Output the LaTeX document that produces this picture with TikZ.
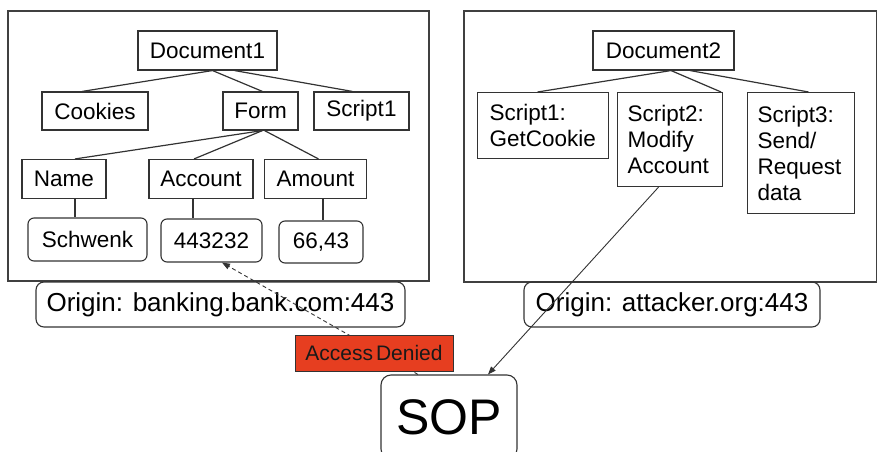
\documentclass[tikz,border=0pt]{standalone}
\usepackage{fontspec}
\setmainfont{Liberation Sans}
\usetikzlibrary{arrows.meta, positioning}
\definecolor{denyred}{RGB}{230,62,32}

\begin{document}
\begin{tikzpicture}[x=1pt, y=-1pt,
  box/.style={draw=black!80, line width=1.1pt, rectangle, inner sep=0pt,
    font=\fontsize{22.5}{26}\selectfont},
  val/.style={box, rounded corners=6pt},
  script/.style={box, anchor=north west, align=left, inner ysep=11pt},
  origin/.style={box, rounded corners=8pt, font=\fontsize{26}{30}\selectfont},
  link/.style={draw=black!80, line width=1.2pt},
  tip/.style={-{Triangle[length=8pt, width=6pt]}}]
\useasboundingbox (0,0) rectangle (878,452);

% the two documents
\draw[draw=black!75, line width=1.2pt] (8,11) rectangle (429,281);
\draw[draw=black!75, line width=1.2pt] (464,11) rectangle (876.5,282);

% tree of Document1
\node[box, minimum width=139pt, minimum height=39pt] (doc1) at (207.5,50.5) {Document1};
\node[box, minimum width=106pt, minimum height=38pt] (cookies) at (95,111) {Cookies};
\node[box, minimum width=75pt, minimum height=38pt] (form) at (260.5,111) {Form};
\node[box, minimum width=95pt, minimum height=38pt] (script1) at (361.5,111) {Script1};
\node[box, minimum width=84pt, minimum height=39pt] (name) at (64,179) {Name};
\node[box, minimum width=104pt, minimum height=39pt] (account) at (201,179) {Account};
\node[box, minimum width=102pt, minimum height=39pt] (amount) at (315.5,179) {Amount};
\node[val, minimum width=119pt, minimum height=43pt] (v1) at (87.5,239.5) {Schwenk};
\node[val, minimum width=101pt, minimum height=43pt] (v2) at (211.5,240.5) {443232};
\node[val, minimum width=84pt, minimum height=42pt] (v3) at (321,242) {66,43};

\draw[link] ([xshift=5pt]doc1.south) -- ([xshift=-13pt]cookies.north);
\draw[link] ([xshift=5pt]doc1.south) -- ([xshift=2pt]form.north);
\draw[link] ([xshift=27pt]doc1.south) -- ([xshift=-9pt]script1.north);
\draw[link] ([xshift=2pt]form.south) -- ([xshift=11pt]name.north);
\draw[link] ([xshift=2pt]form.south) -- ([xshift=-7pt]account.north);
\draw[link] ([xshift=4pt]form.south) -- ([xshift=3pt]amount.north);
\draw[link] ([xshift=11pt]name.south) -- ([xshift=-12.5pt]v1.north);
\draw[link] ([xshift=-8pt]account.south) -- ([xshift=-18.5pt]v2.north);
\draw[link] ([xshift=7.5pt]amount.south) -- ([xshift=2pt]v3.north);

% tree of Document2
\node[box, minimum width=141pt, minimum height=39pt] (doc2) at (663.5,50.5) {Document2};
\node[script, inner xsep=12pt, text width=107pt, minimum height=66pt] (s1) at (477,92) {Script1:\\GetCookie};
\node[script, inner xsep=10pt, text width=85pt, minimum height=94pt] (s2) at (617,92) {Script2:\\Modify\\Account};
\node[script, inner xsep=10pt, text width=87pt, minimum height=121pt] (s3) at (747,92) {Script3:\\Send/\\Request\\data};

\draw[link] ([xshift=7.5pt]doc2.south) -- ([xshift=-5.5pt]s1.north);
\draw[link] ([xshift=7.5pt]doc2.south) -- ([xshift=-2pt]s2.north east);
\draw[link] ([xshift=26.5pt]doc2.south) -- ([xshift=7.5pt]s3.north);

% origins and SOP
\node[origin, minimum width=369pt, minimum height=45pt] (orig1) at (220.5,304.5) {Origin: banking.bank.com:443};
\node[origin, minimum width=296pt, minimum height=45pt] (orig2) at (672,304.5) {Origin: attacker.org:443};
\node[box, rounded corners=10pt, minimum width=136pt, minimum height=84pt,
  font=\fontsize{50}{56}\selectfont] (sop) at (449,417) {SOP};

\draw[link, line width=0.9pt, dash pattern=on 4pt off 3pt, tip] ([xshift=-31pt]sop.north) -- ([xshift=10.5pt]v2.south);
\draw[link, line width=0.9pt, tip] ([xshift=-11.5pt]s2.south) -- ([xshift=39pt]sop.north);

\node[draw=black!80, line width=0.6pt, fill=denyred, inner sep=0pt,
  minimum width=158pt, minimum height=36pt, text=black!90,
  font=\fontsize{21}{24}\selectfont] (deny) at (374,353) {Access\hspace{3pt}Denied};
\end{tikzpicture}
\end{document}
